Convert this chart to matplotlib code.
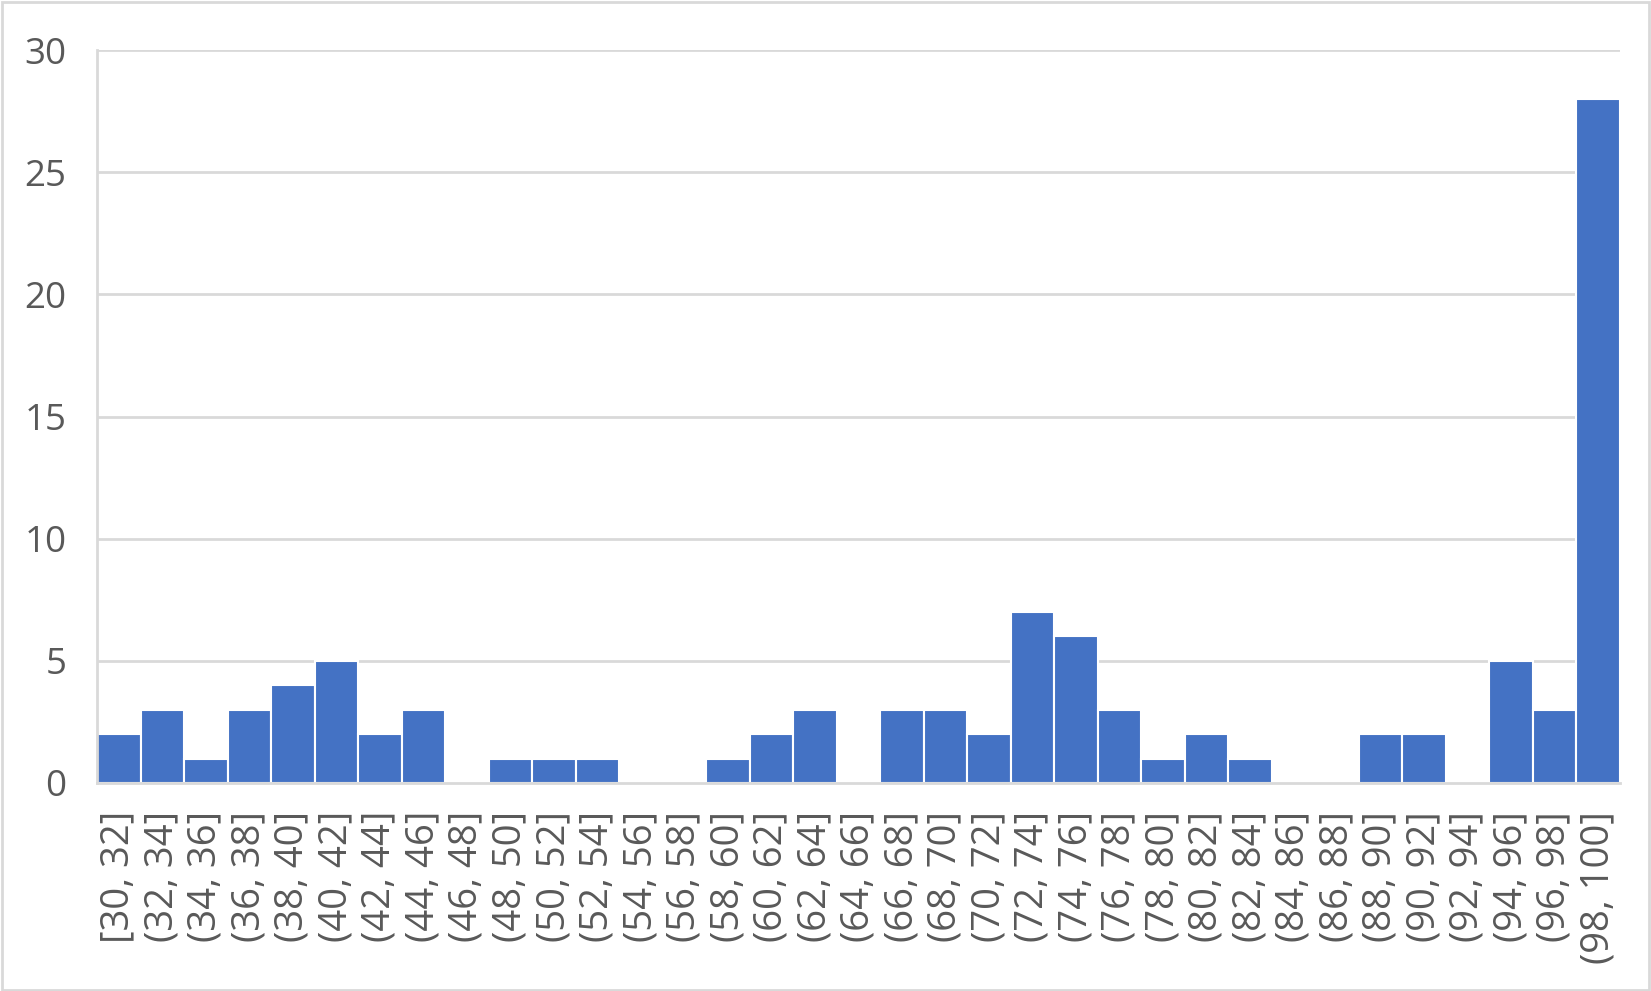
import matplotlib.pyplot as plt
from matplotlib.patches import Rectangle

plt.rcParams['font.family'] = ['Open Sans', 'DejaVu Sans']

bins = ["[30, 32]", "(32, 34]", "(34, 36]", "(36, 38]", "(38, 40]", "(40, 42]",
        "(42, 44]", "(44, 46]", "(46, 48]", "(48, 50]", "(50, 52]", "(52, 54]",
        "(54, 56]", "(56, 58]", "(58, 60]", "(60, 62]", "(62, 64]", "(64, 66]",
        "(66, 68]", "(68, 70]", "(70, 72]", "(72, 74]", "(74, 76]", "(76, 78]",
        "(78, 80]", "(80, 82]", "(82, 84]", "(84, 86]", "(86, 88]", "(88, 90]",
        "(90, 92]", "(92, 94]", "(94, 96]", "(96, 98]", "(98, 100]"]
counts = [2, 3, 1, 3, 4, 5, 2, 3, 0, 1, 1, 1, 0, 0, 1, 2, 3, 0,
          3, 3, 2, 7, 6, 3, 1, 2, 1, 0, 0, 2, 2, 0, 5, 3, 28]
y_ticks = [0, 5, 10, 15, 20, 25, 30]

text_color = "#595959"
grid_color = "#D9D9D9"

fig = plt.figure(figsize=(16.51, 9.91), dpi=100)
ax = fig.add_axes([97 / 1651, 1 - 783 / 991, (1620 - 97) / 1651, (783 - 50) / 991])

x = list(range(len(bins)))
ax.bar(x, counts, width=1.0, color="#4472C4", edgecolor="white", linewidth=1.5,
       zorder=3)

ax.set_xlim(-0.5, len(bins) - 0.5)
ax.set_ylim(0, 30)
ax.set_yticks(y_ticks)
ax.set_xticks(x)
ax.set_xticklabels(bins, rotation=90)
ax.yaxis.grid(True, color=grid_color, linewidth=2, zorder=0)
ax.tick_params(axis="both", length=0, labelcolor=text_color)
ax.tick_params(axis="y", pad=22, labelsize=26.5)
ax.tick_params(axis="x", pad=20, labelsize=27.5)

for side in ["top", "right"]:
    ax.spines[side].set_visible(False)
for side in ["left", "bottom"]:
    ax.spines[side].set_color(grid_color)
    ax.spines[side].set_linewidth(2)
    ax.spines[side].set_zorder(4)

# outer border of the chart
fig.patches.append(Rectangle((0.001, 0.001), 0.998, 0.997, transform=fig.transFigure,
                             fill=False, edgecolor=grid_color, linewidth=2))

fig.savefig("out.png", dpi=100)
